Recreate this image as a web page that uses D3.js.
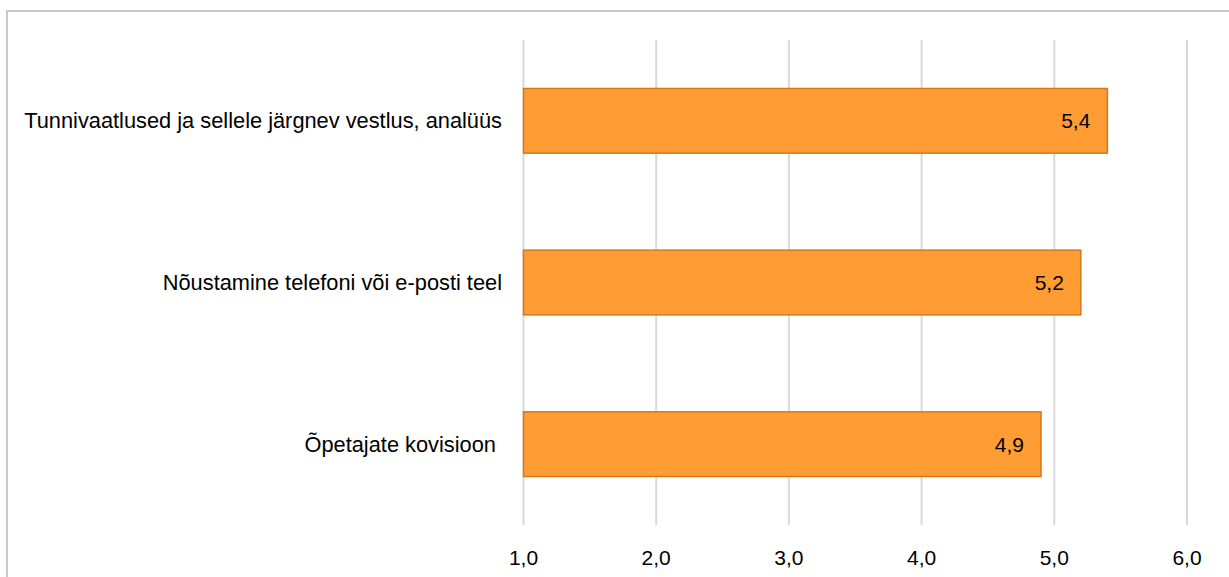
<!DOCTYPE html>
<html>
<head>
<meta charset="utf-8">
<script src="https://cdn.jsdelivr.net/npm/d3@7"></script>
<style>
  body { margin: 0; background: #fff; }
  svg { display: block; }
  text { font-family: "Liberation Sans", Arial, sans-serif; fill: #000; white-space: pre; }
</style>
</head>
<body>
<div class="canvas"></div>
<script>
const categories = ['Tunnivaatlused ja sellele järgnev vestlus, analüüs', 'Nõustamine telefoni või e-posti teel', 'Õpetajate kovisioon '];
const values = [5.4, 5.2, 4.9];
const tickValues = [1, 2, 3, 4, 5, 6];

const dims = { width: 1229, height: 577 };
const plot = { left: 523.5, right: 1187, top: 40, bottom: 525 };

const svg = d3.select('.canvas')
    .append('svg')
    .attr('width', dims.width)
    .attr('height', dims.height);

// chart frame
svg.append('rect')
    .attr('x', 7)
    .attr('y', 11)
    .attr('width', 1240)
    .attr('height', 600)
    .attr('fill', 'none')
    .attr('stroke', '#c8c8c8')
    .attr('stroke-width', 2);

const x = d3.scaleLinear()
    .domain([1, 6])
    .range([plot.left, plot.right]);

const y = d3.scaleBand()
    .domain(categories)
    .range([plot.top, plot.bottom])
    .paddingInner(0.6)
    .paddingOuter(0.3);

const fmt = v => d3.format('.1f')(v).replace('.', ',');

// gridlines
svg.append('g')
    .selectAll('line')
    .data(tickValues)
    .enter()
    .append('line')
        .attr('x1', d => x(d))
        .attr('x2', d => x(d))
        .attr('y1', plot.top)
        .attr('y2', plot.bottom)
        .attr('stroke', '#d9d9d9')
        .attr('stroke-width', 2);

// tick labels
svg.append('g')
    .selectAll('text')
    .data(tickValues)
    .enter()
    .append('text')
        .attr('x', d => x(d))
        .attr('y', 557)
        .attr('text-anchor', 'middle')
        .attr('dominant-baseline', 'central')
        .attr('font-size', 21)
        .text(d => fmt(d));

// bars
svg.append('g')
    .selectAll('rect')
    .data(values)
    .enter()
    .append('rect')
        .attr('x', x(1))
        .attr('y', (d, i) => y(categories[i]))
        .attr('width', d => x(d) - x(1))
        .attr('height', y.bandwidth())
        .attr('fill', '#ff9c33')
        .attr('stroke', '#d9771a')
        .attr('stroke-width', 1.5);

// value labels
svg.append('g')
    .selectAll('text')
    .data(values)
    .enter()
    .append('text')
        .attr('x', d => x(d) - 17)
        .attr('y', (d, i) => y(categories[i]) + y.bandwidth() / 2)
        .attr('text-anchor', 'end')
        .attr('dominant-baseline', 'central')
        .attr('font-size', 21)
        .text(d => fmt(d));

// category labels
svg.append('g')
    .selectAll('text')
    .data(categories)
    .enter()
    .append('text')
        .attr('x', 502)
        .attr('y', d => y(d) + y.bandwidth() / 2)
        .attr('text-anchor', 'end')
        .attr('dominant-baseline', 'central')
        .attr('font-size', 21.8)
        .text(d => d);
</script>
</body>
</html>
